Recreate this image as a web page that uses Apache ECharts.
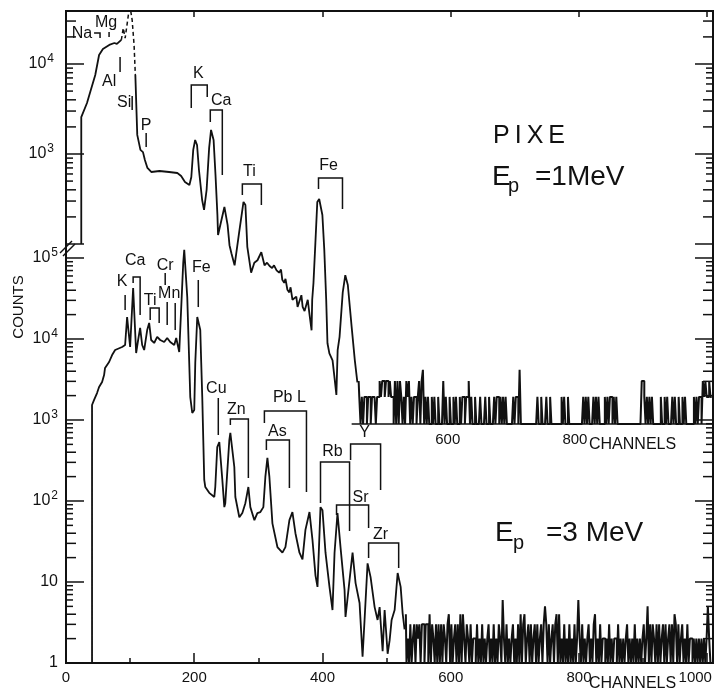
<!DOCTYPE html>
<html>
<head>
<meta charset="utf-8">
<script src="https://cdn.jsdelivr.net/npm/echarts@6/dist/echarts.min.js"></script>
<style>
html, body { margin: 0; background: #fff; }
#main { width: 716px; height: 693px; }
</style>
</head>
<body>
<div id="main"></div>
<script>
var INK = '#111';
var FONT = 'Liberation Sans';

// ---- 1 MeV spectrum (upper panel): [channel, counts] ----
var topRise = [[24, 100], [24, 2570], [33, 3690], [39, 5140], [46, 7550], [52, 12600], [58, 14700],
  [68, 16300], [76, 17100], [80, 16700], [87, 18500]];
var topDashed = [[87, 18500], [90, 25100], [93, 19400], [98, 35000], [101, 41900], [104, 30800],
  [107, 16300], [109, 7550]];
var topTail = [[109, 7550], [112, 1630], [117, 1110], [121, 1050], [124, 858], [128, 699], [134, 631],
  [147, 647], [162, 631], [175, 615], [181, 570], [187, 489], [194, 453], [197, 555], [200, 1110],
  [203, 1430], [206, 1260], [209, 664], [214, 308], [217, 239], [221, 398], [225, 1170], [228, 1850],
  [232, 1430], [235, 585], [238, 210], [239, 126], [249, 258], [254, 163], [257, 97], [260, 79],
  [265, 58], [272, 132], [279, 293], [282, 271], [285, 93], [291, 48], [296, 62], [301, 66], [307, 81],
  [312, 58], [316, 62], [320, 57], [324, 54], [327, 58], [331, 51], [335, 48], [338, 52], [340, 40],
  [343, 37], [345, 41], [348, 31], [351, 29], [353, 33], [356, 24], [362, 26], [364, 20], [367, 21],
  [370, 27], [372, 20], [375, 18], [380, 24], [383, 16], [386, 11], [387, 24],
  [389, 37], [392, 103], [395, 293], [398, 316], [403, 210], [406, 86], [409, 24], [411, 7.9],
  [414, 6.1], [419, 5.1], [422, 3.3], [425, 2.1], [427, 6.6], [430, 9.3], [435, 29], [439, 45],
  [443, 35], [449, 12], [454, 5.1], [458, 2.9]];
// background counts, one value every 2 channels from channel 460
var topNoiseStart = 460;
var topNoise = '3' + '2121221' + '221222122' + '323323323' + '221' + '31313' + '2121' + '3231' +
  '212212' + '313' + '41' + '21211212' + '112111' + '31' + '21121121211' + '2122122' + '31' +
  '2112111211' + '1211211121' + '221' + '21212' + '11111' + '21221' + '41' + '111111111111' +
  '2112111211211' + '111111' + '2121121' + '1111111111' + '21212111212121111212122121211' +
  '11111111111' + '111111' + '33' + '21212121' + '11111' + '211212111212112112121' + '11111' +
  '2121221' + '3232232' + '2';

// ---- 3 MeV spectrum (lower panel) ----
var lowMain = [[40.6, 1], [40.6, 1530], [43.8, 1770], [48.4, 2150], [51.6, 2550], [56.3, 2950],
  [59.4, 3590], [60.9, 4390], [67.2, 5200], [71.9, 6340], [76.6, 7310], [87.5, 7960], [92.2, 8430],
  [95.3, 18700], [100, 7960], [104.7, 42600], [109.4, 6710], [112.5, 9720], [115.6, 13700],
  [118.8, 8430], [121.9, 7310], [126.6, 12900], [129.7, 15800], [132.8, 9720], [137.5, 8930],
  [142.2, 10600], [146.9, 9720], [153.1, 9180], [157.8, 10300], [162.5, 9180], [168.8, 8430],
  [171.9, 10300], [176.6, 6920], [179.7, 7310], [182.8, 86700], [184.4, 126000], [189.1, 33000],
  [192.2, 5060], [193.8, 1920], [196.9, 1220], [200, 1330], [201.6, 5060], [204.7, 18700],
  [209.4, 12900], [210.9, 5060], [212.5, 1920], [214.1, 566], [215.6, 182], [217.2, 149],
  [223.4, 126], [231.3, 112], [232.8, 149], [235.9, 464], [239.1, 535], [243.8, 182], [246.9, 84],
  [248.4, 94], [254.7, 566], [256.3, 692], [262.5, 263], [264.1, 112], [270.3, 63], [275, 71],
  [279.7, 94], [284.4, 149], [287.5, 84], [293.8, 58], [298.4, 71], [303.1, 73], [307.8, 84],
  [310.9, 198], [314.1, 340], [317.2, 198], [321.9, 53], [329.7, 27], [337.5, 23], [342.2, 27],
  [348.4, 58], [353.1, 73], [357.8, 40], [364.1, 23], [368.8, 19], [373.4, 44], [379.7, 73],
  [384.4, 33], [389.1, 12], [392.2, 8.7], [396.9, 84], [400, 77], [404.7, 23], [410.9, 8.7],
  [415.6, 4.5], [418.8, 23], [423.4, 71], [428.1, 27], [434.4, 8], [435.9, 3.7], [442.2, 10.6],
  [446.9, 23], [451.6, 9.7], [457.8, 5.5], [462.5, 1.2], [465.6, 3.4], [470.3, 17], [475, 11.5],
  [481.3, 4.9], [485.9, 3.4], [489.1, 4.9], [493.8, 1.4], [496.9, 4.5], [501.6, 1.3], [504.7, 1.9],
  [507.8, 3.4], [512.5, 4.5], [517.2, 12.9], [521.9, 8.7], [525, 4.1], [528, 2.6]];
var lowNoiseStart = 530;
var lowNoise = '4121312' + '3132313313' + '31413213131' + '313213413123131' + '414213' +
  '21312213121312123121' + '3121321' + '6' + '2131212312131' + '413412' + '3131231312313' + '5' +
  '313123134141' + '2131213121312' + '6' + '213121231213' + '4' + '121312' +
  '2121312122131212123121213121212312' + '51' + '3132131312313123131' + '4' + '313123121312' +
  '2121212121212' + '5' + '21';

// ---- element markers: [chLeft, chRight, countTop, countLeftEnd, countRightEnd] ----
var topMarks = [[44.1, 53.5, 22100, 22100, 19400], [67.7, 67.7, 22700, 22700, 19950],
  [85, 85, 11970, 11970, 8150], [104, 104, 4410, 4410, 3080], [126, 126, 1710, 1710, 1195],
  [196.9, 222, 5840, 3240, 4300], [226.8, 245.7, 3080, 2270, 585], [277.2, 307.1, 464, 350, 271],
  [396.9, 434.6, 541, 408, 245]];
var topNames = ['Na', 'Mg', 'Al', 'Si', 'P', 'K', 'Ca', 'Ti', 'Fe'];
var topNamePos = [[25.2, 21500], [63, 28500], [67.7, 6310], [91.3, 3690], [126, 2050], [207.9, 7740],
  [244, 3880], [288.2, 631], [412.6, 736]];

var lowMarks = [[92.2, 92.2, 34900, 34900, 22800], [104.7, 115.6, 58200, 49100, 19800],
  [131.3, 145.3, 24100, 17200, 15800], [154.7, 154.7, 65300, 65300, 46400],
  [157.8, 157.8, 28600, 28600, 14900], [170.3, 170.3, 27800, 27800, 12900],
  [206.3, 206.3, 53500, 53500, 24800], [237.5, 237.5, 1870, 1870, 653],
  [256.3, 284.4, 1030, 867, 192], [309.4, 375, 1290, 918, 129], [312.5, 348.4, 566, 426, 145],
  [396.9, 442.2, 303, 94.5, 42.6], [443.8, 490.6, 506, 321, 137], [421.9, 471.9, 89.3, 67.1, 46.4],
  [471.9, 518.8, 30.3, 19.8, 14.9]];
var lowNames = ['K', 'Ca', 'Ti', 'Cr', 'Mn', 'Fe', 'Cu', 'Zn', 'Pb L', 'As', 'Rb', 'Y', 'Sr', 'Zr'];
var lowNamePos = [[87.5, 50600], [107.8, 91800], [131.3, 29400], [154.7, 79600], [160.9, 35900],
  [210.9, 75300], [234.4, 2410], [265.6, 1330], [348.4, 1870], [329.7, 711], [415.6, 403],
  [465.6, 692], [459.4, 109], [490.6, 38]];

var lowTickLabels = ['1', '10', '10{s|2}', '10{s|3}', '10{s|4}', '10{s|5}'];

var X_MAX_LOW = 1009, X_MAX_TOP = 1017;

function noiseData(start, str) {
  var out = [];
  for (var i = 0; i < str.length; i++) out.push([start + 2 * i, +str[i]]);
  return out;
}

function logTicks(fromExp, toExp, maxVal) {
  var out = [];
  for (var e = fromExp; e <= toExp; e++) {
    for (var k = 1; k <= 9; k++) {
      var v = k * Math.pow(10, e);
      if (v > maxVal) break;
      out.push([v, k === 1 ? 18 : (k < 5 ? 10 : 7)]);
    }
  }
  return out;
}

function tickSeries(xi, yi, ticks, xMax) {
  return {
    type: 'custom', xAxisIndex: xi, yAxisIndex: yi, silent: true, clip: false, data: ticks,
    renderItem: function (params, api) {
      var l = api.coord([0, api.value(0)]);
      var r = api.coord([xMax, api.value(0)]);
      var len = api.value(1);
      return {
        type: 'group', children: [
          { type: 'line', shape: { x1: l[0], y1: l[1], x2: l[0] + len, y2: l[1] }, style: { stroke: INK, lineWidth: 1.5 } },
          { type: 'line', shape: { x1: r[0], y1: r[1], x2: r[0] - len, y2: r[1] }, style: { stroke: INK, lineWidth: 1.5 } }
        ]
      };
    }
  };
}

function markSeries(xi, yi, marks) {
  return {
    type: 'custom', xAxisIndex: xi, yAxisIndex: yi, silent: true, clip: false, data: marks,
    renderItem: function (params, api) {
      var pts = [
        api.coord([api.value(0), api.value(3)]),
        api.coord([api.value(0), api.value(2)]),
        api.coord([api.value(1), api.value(2)]),
        api.coord([api.value(1), api.value(4)])
      ];
      return { type: 'polyline', shape: { points: pts }, style: { stroke: INK, fill: null, lineWidth: 1.5 } };
    }
  };
}

function nameSeries(xi, yi, pos, names) {
  return {
    type: 'custom', xAxisIndex: xi, yAxisIndex: yi, silent: true, clip: false, data: pos,
    renderItem: function (params, api) {
      var p = api.coord([api.value(0), api.value(1)]);
      return {
        type: 'text', x: p[0], y: p[1],
        style: {
          text: names[params.dataIndex], fill: INK, fontSize: 16, fontFamily: FONT,
          align: 'center', verticalAlign: 'middle', textAlign: 'center', textVerticalAlign: 'middle'
        }
      };
    }
  };
}

function lineSeries(xi, yi, data, width, extra) {
  var s = {
    type: 'line', xAxisIndex: xi, yAxisIndex: yi, data: data, showSymbol: false, symbol: 'none',
    silent: true, lineStyle: { color: INK, width: width }, z: 3
  };
  for (var k in extra) s[k] = extra[k];
  return s;
}

var chartDom = document.getElementById('main');
var myChart = echarts.init(chartDom);
var option;

var bigText = { fill: INK, fontFamily: FONT, align: 'left', verticalAlign: 'middle', textAlign: 'left', textVerticalAlign: 'middle' };
function txt(x, y, s, size, extra) {
  var st = { text: s, fontSize: size };
  for (var k in bigText) st[k] = bigText[k];
  var el = { type: 'text', x: x, y: y, style: st, silent: true };
  for (var j in extra) el[j] = extra[j];
  return el;
}

var supRich = {
  s: { fontFamily: FONT, fontSize: 12, color: INK, padding: [0, 0, 11, 1] }
};

option = {
  animation: false,
  backgroundColor: '#fff',
  grid: [
    { left: 66, right: 3, top: 11, bottom: 30, show: true, borderColor: INK, borderWidth: 2 },
    { left: 66, right: 3, top: 11, bottom: 269 }
  ],
  xAxis: [
    {
      gridIndex: 0, type: 'value', min: 0, max: X_MAX_LOW, interval: 200,
      axisLine: { show: false }, splitLine: { show: false },
      axisTick: { inside: true, length: 10, lineStyle: { color: INK, width: 1.5 } },
      minorTick: { show: true, splitNumber: 2, length: 5, lineStyle: { color: INK, width: 1.5 } },
      axisLabel: {
        color: INK, fontFamily: FONT, fontSize: 15, margin: 7,
        formatter: function (v) {
          if (v % 200 !== 0) return '';
          return v === 1000 ? '{r|1000}' : String(v);
        },
        rich: { r: { fontFamily: FONT, fontSize: 15, color: INK, padding: [0, 24, 0, 0] } }
      }
    },
    {
      gridIndex: 0, type: 'value', position: 'top', min: 0, max: X_MAX_LOW, interval: 200,
      axisLine: { show: false }, splitLine: { show: false }, axisLabel: { show: false },
      axisTick: { inside: true, length: 6, lineStyle: { color: INK, width: 1.5 } }
    },
    {
      gridIndex: 1, type: 'value', min: 0, max: X_MAX_TOP, interval: 200,
      axisLine: { show: false }, splitLine: { show: false }, axisTick: { show: false },
      axisLabel: {
        color: INK, fontFamily: FONT, fontSize: 15, margin: 8,
        formatter: function (v) { return (v === 600 || v === 800) ? String(v) : ''; }
      }
    }
  ],
  yAxis: [
    {
      gridIndex: 0, type: 'log', logBase: 10, min: 1, max: 1.12e8, splitNumber: 10,
      axisLine: { show: false }, axisTick: { show: false }, splitLine: { show: false }, minorTick: { show: false },
      axisLabel: {
        color: INK, fontFamily: FONT, fontSize: 16, margin: 8, rich: supRich,
        formatter: function (v) {
          var e = Math.round(Math.log10(v));
          return e <= 5 ? lowTickLabels[e] : '';
        }
      }
    },
    {
      gridIndex: 1, type: 'log', logBase: 10, min: 1, max: 38800, splitNumber: 10,
      axisLine: { show: false }, axisTick: { show: false }, splitLine: { show: false }, minorTick: { show: false },
      axisLabel: {
        color: INK, fontFamily: FONT, fontSize: 16, margin: 12, rich: supRich,
        formatter: function (v) {
          var e = Math.round(Math.log10(v));
          return e === 3 ? '10{s|3}' : (e === 4 ? '10{s|4}' : '');
        }
      }
    }
  ],
  series: [
    lineSeries(0, 0, lowMain, 1.8, {}),
    lineSeries(0, 0, noiseData(lowNoiseStart, lowNoise), 2, { step: 'middle' }),
    lineSeries(2, 1, topRise, 1.8, {}),
    lineSeries(2, 1, topDashed, 1.5, { lineStyle: { color: INK, width: 1.5, type: [4, 3] } }),
    lineSeries(2, 1, topTail, 1.8, {}),
    lineSeries(2, 1, noiseData(topNoiseStart, topNoise), 2, {
      step: 'middle',
      markLine: {
        silent: true, symbol: 'none', label: { show: false }, animation: false,
        lineStyle: { color: INK, width: 1.5, type: 'solid' },
        data: [[{ coord: [449, 1] }, { coord: [X_MAX_TOP, 1] }]]
      }
    }),
    tickSeries(0, 0, logTicks(0, 5, 1e5), X_MAX_LOW),
    tickSeries(2, 1, logTicks(2, 4, 38800), X_MAX_TOP),
    markSeries(0, 0, lowMarks),
    markSeries(2, 1, topMarks),
    nameSeries(0, 0, lowNamePos, lowNames),
    nameSeries(2, 1, topNamePos, topNames)
  ],
  graphic: [
    { type: 'line', silent: true, shape: { x1: 60, y1: 253, x2: 72, y2: 241 }, style: { stroke: INK, lineWidth: 1.5 } },
    { type: 'line', silent: true, shape: { x1: 63, y1: 256, x2: 75, y2: 244 }, style: { stroke: INK, lineWidth: 1.5 } },
    txt(19, 307, 'COUNTS', 15, { rotation: Math.PI / 2, style: { text: 'COUNTS', fontSize: 15, fill: INK, fontFamily: FONT, align: 'center', verticalAlign: 'middle', textAlign: 'center', textVerticalAlign: 'middle' } }),
    txt(493, 136, 'P\u2009I\u2009X\u2009E', 25),
    txt(492, 177, 'E', 28),
    txt(508, 186, 'p', 20),
    txt(535, 177, '=1MeV', 28),
    txt(495, 533, 'E', 28),
    txt(513, 543, 'p', 20),
    txt(546, 533, '=3 MeV', 28),
    txt(589, 445, 'CHANNELS', 16),
    txt(589, 684, 'CHANNELS', 16)
  ]
};

option && myChart.setOption(option);
</script>
</body>
</html>
